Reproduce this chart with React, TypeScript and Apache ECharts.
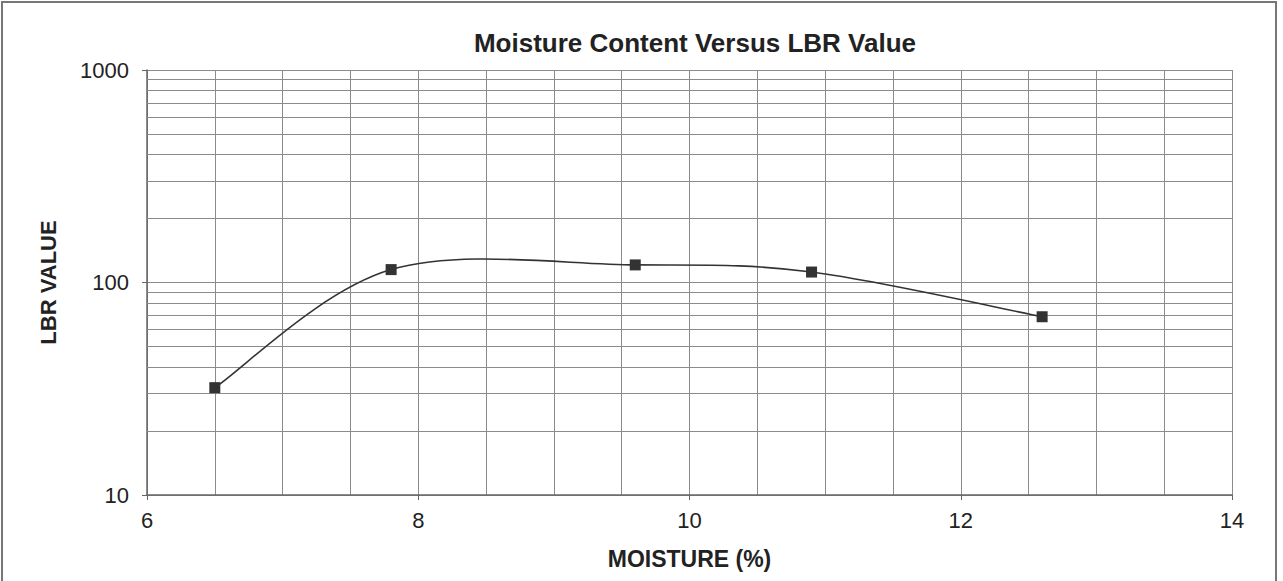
import { useEffect, useRef } from "react";
import * as echarts from "echarts";

const moisture = [6.5, 7.8, 9.6, 10.9, 12.6];
const lbrValue = [32, 115, 121, 112, 69];
const minorLogLines = [20, 30, 40, 50, 60, 70, 80, 90, 200, 300, 400, 500, 600, 700, 800, 900];
const chartTitle = "Moisture Content Versus LBR Value";
const xName = "MOISTURE (%)";
const yName = "LBR VALUE";

const FONT = "'Liberation Sans', Arial, sans-serif";
const GRID = "#8c8c8c";
const INK = "#333333";

export default function App() {
  const ref = useRef<HTMLDivElement>(null);
  useEffect(() => {
    const chart = echarts.init(ref.current!, null, { renderer: "svg" });
    const points = moisture.map((m, i) => [m, lbrValue[i]]);
    chart.setOption({
      animation: false,
      backgroundColor: "#ffffff",
      textStyle: { fontFamily: FONT },
      graphic: [
        {
          type: "rect",
          shape: { x: 2, y: 2, width: 1274, height: 640 },
          style: { fill: "none", stroke: "#777777", lineWidth: 2 },
          silent: true,
        },
        {
          type: "text",
          x: 695,
          y: 43,
          style: {
            text: chartTitle,
            fontFamily: FONT,
            fontSize: 26,
            fontWeight: "bold",
            fill: "#222222",
            align: "center",
            verticalAlign: "middle",
          },
        },
      ],
      grid: { left: 147, right: 51, top: 70, bottom: 86 },
      xAxis: {
        type: "value",
        min: 6,
        max: 14,
        interval: 2,
        name: xName,
        nameLocation: "middle",
        nameGap: 52,
        nameTextStyle: { fontFamily: FONT, fontSize: 23, fontWeight: "bold", color: "#222" },
        axisLine: { show: true, lineStyle: { color: "#666", width: 1.5 } },
        axisTick: { show: true, inside: false, length: 5, lineStyle: { color: "#666" } },
        axisLabel: { fontFamily: FONT, fontSize: 22, color: "#222", margin: 14 },
        splitLine: { show: true, lineStyle: { color: GRID, width: 1 } },
        minorTick: { show: false, splitNumber: 4 },
        minorSplitLine: { show: true, lineStyle: { color: GRID, width: 1 } },
      },
      yAxis: {
        type: "log",
        logBase: 10,
        min: 10,
        max: 1000,
        name: yName,
        nameLocation: "middle",
        nameGap: 88,
        nameTextStyle: { fontFamily: FONT, fontSize: 22, fontWeight: "bold", color: "#222" },
        axisLine: { show: true, lineStyle: { color: "#666", width: 1.5 } },
        axisTick: { show: true, inside: false, length: 5, lineStyle: { color: "#666" } },
        axisLabel: {
          fontFamily: FONT,
          fontSize: 22,
          color: "#222",
          margin: 18,
          formatter: (v: number) => String(Math.round(v)),
        },
        splitLine: { show: true, lineStyle: { color: GRID, width: 1 } },
      },
      series: [
        {
          type: "custom",
          coordinateSystem: "cartesian2d",
          data: points,
          silent: true,
          z: 4,
          renderItem: (params: any, api: any) => {
            const i = params.dataIndex;
            const n = points.length;
            if (i >= n - 1) return null;
            const P = points.map((p) => api.coord(p));
            const p0 = P[Math.max(i - 1, 0)];
            const p1 = P[i];
            const p2 = P[i + 1];
            const p3 = P[Math.min(i + 2, n - 1)];
            const c1x = p1[0] + (p2[0] - p0[0]) / 6;
            const c1y = p1[1] + (p2[1] - p0[1]) / 6;
            const c2x = p2[0] - (p3[0] - p1[0]) / 6;
            const c2y = p2[1] - (p3[1] - p1[1]) / 6;
            return {
              type: "bezierCurve",
              shape: {
                x1: p1[0],
                y1: p1[1],
                cpx1: c1x,
                cpy1: c1y,
                cpx2: c2x,
                cpy2: c2y,
                x2: p2[0],
                y2: p2[1],
              },
              style: { stroke: INK, lineWidth: 1.6, fill: "none" },
            };
          },
          markLine: {
            silent: true,
            symbol: ["none", "none"],
            label: { show: false },
            lineStyle: { color: GRID, width: 1, type: "solid" },
            emphasis: { disabled: true },
            data: minorLogLines.map((v) => ({ yAxis: v })),
            z: 1,
          },
        },
        {
          type: "scatter",
          data: points,
          symbol: "rect",
          symbolSize: 11,
          itemStyle: { color: INK, opacity: 1 },
          z: 5,
        },
      ],
    });
    return () => chart.dispose();
  }, []);
  return (
    <div
      ref={ref}
      style={{ position: "fixed", left: 0, top: 0, width: 1283, height: 581, background: "#fff" }}
    />
  );
}
